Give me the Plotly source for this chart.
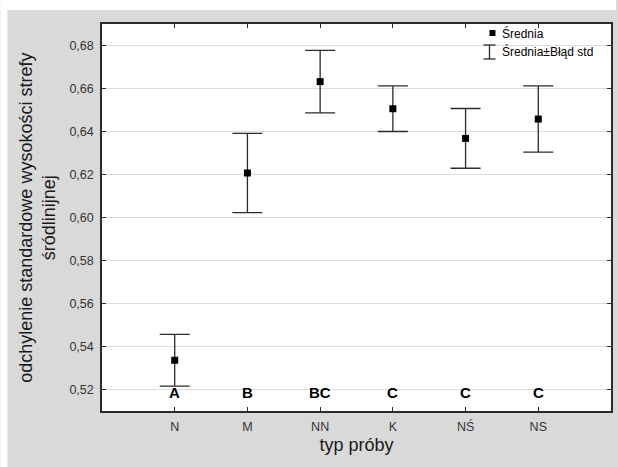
import plotly.graph_objects as go

# ---- data ----
categories = ["N", "M", "NN", "K", "NŚ", "NS"]
means = [0.5336, 0.6207, 0.6632, 0.6506, 0.6368, 0.6458]
std_err = [0.0120, 0.0184, 0.0145, 0.0106, 0.0139, 0.0154]
groups = ["A", "B", "BC", "C", "C", "C"]
y_ticks = [0.52, 0.54, 0.56, 0.58, 0.60, 0.62, 0.64, 0.66, 0.68]
y_tick_labels = ["0,52", "0,54", "0,56", "0,58", "0,60", "0,62", "0,64", "0,66", "0,68"]
group_label_level = 0.52

# ---- layout geometry (pixels) ----
W, H = 618, 467
ML, MR, MT, MB = 102, 5, 24, 56
PW, PH = W - ML - MR, H - MT - MB


def px_x(px):
    return (px - ML) / PW


def px_y(py):
    return (H - MB - py) / PH


FONT = "Liberation Sans, Arial, sans-serif"
DARK = "#2b2b2b"

fig = go.Figure()
fig.add_trace(go.Scatter(
    x=categories, y=means,
    mode="markers",
    marker=dict(symbol="square", size=7, color="black"),
    error_y=dict(type="data", array=std_err, visible=True,
                 color=DARK, thickness=1.3, width=15),
    name="Średnia", showlegend=False,
))

annotations = []
for c, g in zip(categories, groups):
    annotations.append(dict(
        x=c, y=group_label_level, xref="x", yref="y", text=f"<b>{g}</b>",
        showarrow=False, yanchor="middle", yshift=-3,
        font=dict(family=FONT, size=15, color="black"),
    ))

# custom legend
annotations += [
    dict(x=px_x(502), y=px_y(33), xref="paper", yref="paper", text="Średnia",
         showarrow=False, xanchor="left", yanchor="middle",
         font=dict(family=FONT, size=12, color="black")),
    dict(x=px_x(502), y=px_y(52), xref="paper", yref="paper", text="Średnia±Błąd std",
         showarrow=False, xanchor="left", yanchor="middle",
         font=dict(family=FONT, size=12, color="black")),
    dict(x=px_x(37), y=0.5, xref="paper", yref="paper",
         text="odchylenie standardowe wysokości strefy<br>śródlinijnej",
         textangle=-90, showarrow=False, xanchor="center", yanchor="middle",
         font=dict(family=FONT, size=18, color="#1a1a1a")),
]

shapes = [
    # white outer strips
    dict(type="rect", xref="paper", yref="paper", x0=px_x(0), x1=px_x(W), y0=px_y(10), y1=px_y(0),
         fillcolor="white", line=dict(width=0), layer="below"),
    dict(type="rect", xref="paper", yref="paper", x0=px_x(0), x1=px_x(7), y0=px_y(H), y1=px_y(0),
         fillcolor="white", line=dict(width=0), layer="below"),
    # legend symbols
    dict(type="rect", xref="paper", yref="paper", x0=px_x(491), x1=px_x(497), y0=px_y(36), y1=px_y(30),
         fillcolor="black", line=dict(width=0)),
    dict(type="line", xref="paper", yref="paper", x0=px_x(491), x1=px_x(491), y0=px_y(45), y1=px_y(59),
         line=dict(color=DARK, width=1.3)),
    dict(type="line", xref="paper", yref="paper", x0=px_x(485), x1=px_x(497), y0=px_y(45), y1=px_y(45),
         line=dict(color=DARK, width=1.3)),
    dict(type="line", xref="paper", yref="paper", x0=px_x(485), x1=px_x(497), y0=px_y(59), y1=px_y(59),
         line=dict(color=DARK, width=1.3)),
]

fig.update_layout(
    width=W, height=H,
    margin=dict(l=ML, r=MR, t=MT, b=MB, pad=0),
    paper_bgcolor="#d9d9d9",
    plot_bgcolor="white",
    showlegend=False,
    annotations=annotations,
    shapes=shapes,
    font=dict(family=FONT, color="#333333"),
)

fig.update_xaxes(
    type="category", categoryorder="array", categoryarray=categories,
    range=[-1, 6],
    showline=True, linecolor=DARK, linewidth=1.5, mirror="ticks",
    ticks="inside", ticklen=4, tickcolor=DARK, tickwidth=1,
    showgrid=False, zeroline=False,
    tickfont=dict(family=FONT, size=12.5, color="#333333"),
    ticklabelstandoff=3,
    title=dict(text="typ próby", font=dict(family=FONT, size=18, color="#1a1a1a"), standoff=6),
)

fig.update_yaxes(
    range=[0.51, 0.69],
    tickvals=y_ticks, ticktext=y_tick_labels,
    showline=True, linecolor=DARK, linewidth=1.5, mirror="ticks",
    ticks="inside", ticklen=4, tickcolor=DARK, tickwidth=1,
    showgrid=True, gridcolor="#dcdcdc", gridwidth=1, zeroline=False,
    tickfont=dict(family=FONT, size=12.5, color="#333333"),
    ticklabelstandoff=4,
)

fig.write_html("out.html")
